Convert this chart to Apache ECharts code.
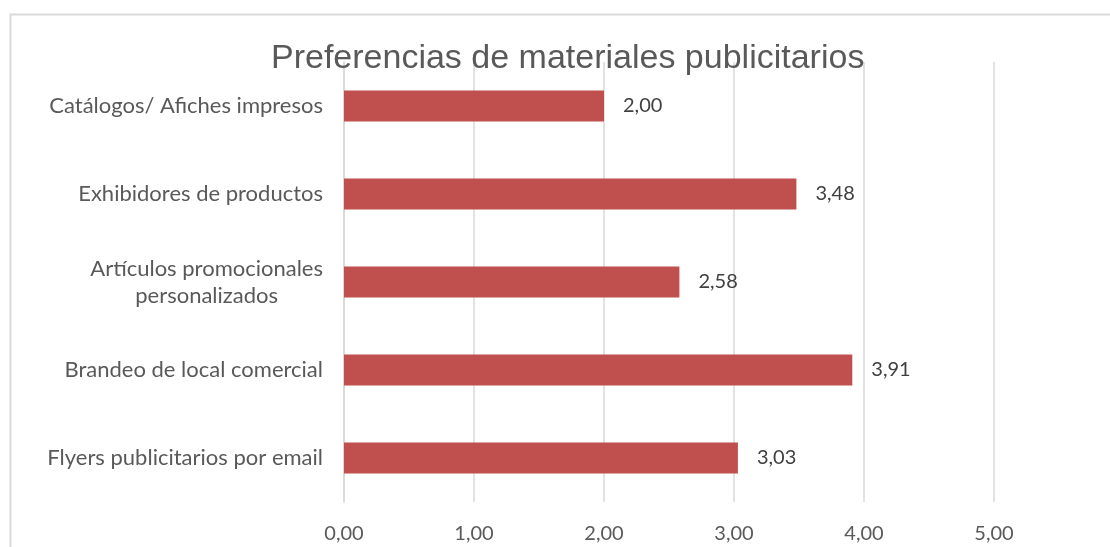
<!DOCTYPE html>
<html>
<head>
<meta charset="utf-8">
<script src="https://cdn.jsdelivr.net/npm/echarts@6/dist/echarts.min.js"></script>
<style>html,body{margin:0;padding:0;background:#fff;}#c{width:1110px;height:547px;}</style>
</head>
<body>
<div id="c"></div>
<script>
const titleText = 'Preferencias de materiales publicitarios';
const categories = [
  'Catálogos/ Afiches impresos',
  'Exhibidores de productos',
  'Artículos promocionales\npersonalizados',
  'Brandeo de local comercial',
  'Flyers publicitarios por email'
];
const values = [2.00, 3.48, 2.58, 3.91, 3.03];
const xTicks = [0, 1, 2, 3, 4, 5];

const fmt = v => Number(v).toFixed(2).replace('.', ',');
const chart = echarts.init(document.getElementById('c'), null, {renderer: 'canvas'});
chart.setOption({
  backgroundColor: '#ffffff',
  animation: false,
  graphic: [{
    type: 'rect', left: 8, top: 12, silent: true,
    shape: {x: 0, y: 0, width: 1200, height: 600},
    style: {fill: 'none', stroke: '#d9d9d9', lineWidth: 2}
  }],
  title: {
    text: titleText,
    left: 266, top: 37,
    textStyle: {fontFamily: '"Liberation Sans", Arial', fontSize: 34, fontWeight: 'normal', color: '#595959'}
  },
  grid: {left: 344, right: 116, top: 62, bottom: 45, containLabel: false},
  xAxis: {
    type: 'value', min: xTicks[0], max: xTicks[xTicks.length - 1], interval: 1,
    axisLine: {show: false}, axisTick: {show: false},
    splitLine: {show: true, lineStyle: {color: '#d9d9d9', width: 1.5}},
    axisLabel: {formatter: fmt, margin: 22, color: '#595959', fontFamily: 'Lato', fontSize: 20}
  },
  yAxis: {
    type: 'category', data: categories, inverse: true,
    axisLine: {show: true, lineStyle: {color: '#d9d9d9', width: 1.5}},
    axisTick: {show: false},
    axisLabel: {
      margin: 21, color: '#595959', fontFamily: 'Lato', fontSize: 22, lineHeight: 27,
      formatter: v => v.split('\n').map(s => '{c|' + s + '}').join('\n'),
      rich: {c: {align: 'center', color: '#595959', fontFamily: 'Lato', fontSize: 22, lineHeight: 27}}
    }
  },
  series: [{
    type: 'bar', data: values, barWidth: 31,
    itemStyle: {color: '#C0504D'},
    label: {show: true, position: 'right', distance: 19, formatter: p => fmt(p.value),
      color: '#404040', fontFamily: 'Lato', fontSize: 20}
  }]
});
</script>
</body>
</html>
